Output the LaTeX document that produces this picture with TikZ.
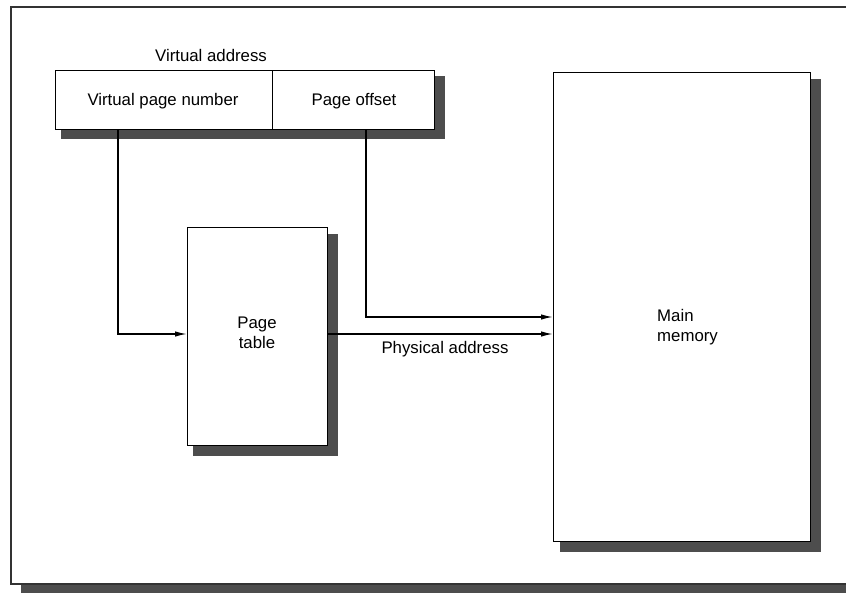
\documentclass[tikz,border=0pt]{standalone}
\usepackage{fontspec}
\setmainfont{Liberation Sans}
\usetikzlibrary{arrows.meta}
\definecolor{shadowgray}{RGB}{77,77,77}
\begin{document}
\begin{tikzpicture}[x=1pt,y=-1pt,
  shadowbox/.style={fill=shadowgray,draw=none},
  mainbox/.style={draw=black,fill=white,line width=1pt},
  lbl/.style={inner sep=0pt,font=\fontsize{16.8}{20}\selectfont},
  conn/.style={line width=1.4pt,-{Latex[length=12pt,width=5.5pt]}}]
\useasboundingbox (0,0) rectangle (846,592);
% outer frame
\fill[shadowgray] (21,15) rectangle (860,600);
\draw[mainbox,line width=1.6pt,draw=black!80] (11,7) rectangle (860,584);
% virtual address box
\fill[shadowgray] (61,76) rectangle (445,139);
\draw[mainbox] (55,70) rectangle (434,129);
\draw[line width=1pt] (272,70) -- (272,129);
\node[lbl] (va) at (211,55) {Virtual address};
\node[lbl] (vpn) at (163,101) {Virtual page number};
\node[lbl] (po) at (354,101) {Page offset};
\coordinate (vpnb) at (118,129);
\coordinate (pob) at (366,129);
% page table
\fill[shadowgray] (193,234) rectangle (338,456);
\draw[mainbox] (187,227) rectangle (327,445);
\node[lbl,align=center] (pt) at (257,333) {Page\\table};
\coordinate (ptl) at (187,334);
\coordinate (ptr) at (327,334);
% main memory
\fill[shadowgray] (560,79) rectangle (821,552);
\draw[mainbox] (553,72) rectangle (810,541);
\node[lbl,align=left,anchor=west] (mm) at (657,327) {Main\\memory};
\coordinate (mm1) at (553,317);
\coordinate (mm2) at (553,334);
% connectors
\draw[conn] (vpnb) |- (ptl);
\draw[conn] (pob) |- (mm1);
\draw[conn] (ptr) -- (mm2);
\node[lbl] (pa) at (445,349) {Physical address};
\end{tikzpicture}
\end{document}
